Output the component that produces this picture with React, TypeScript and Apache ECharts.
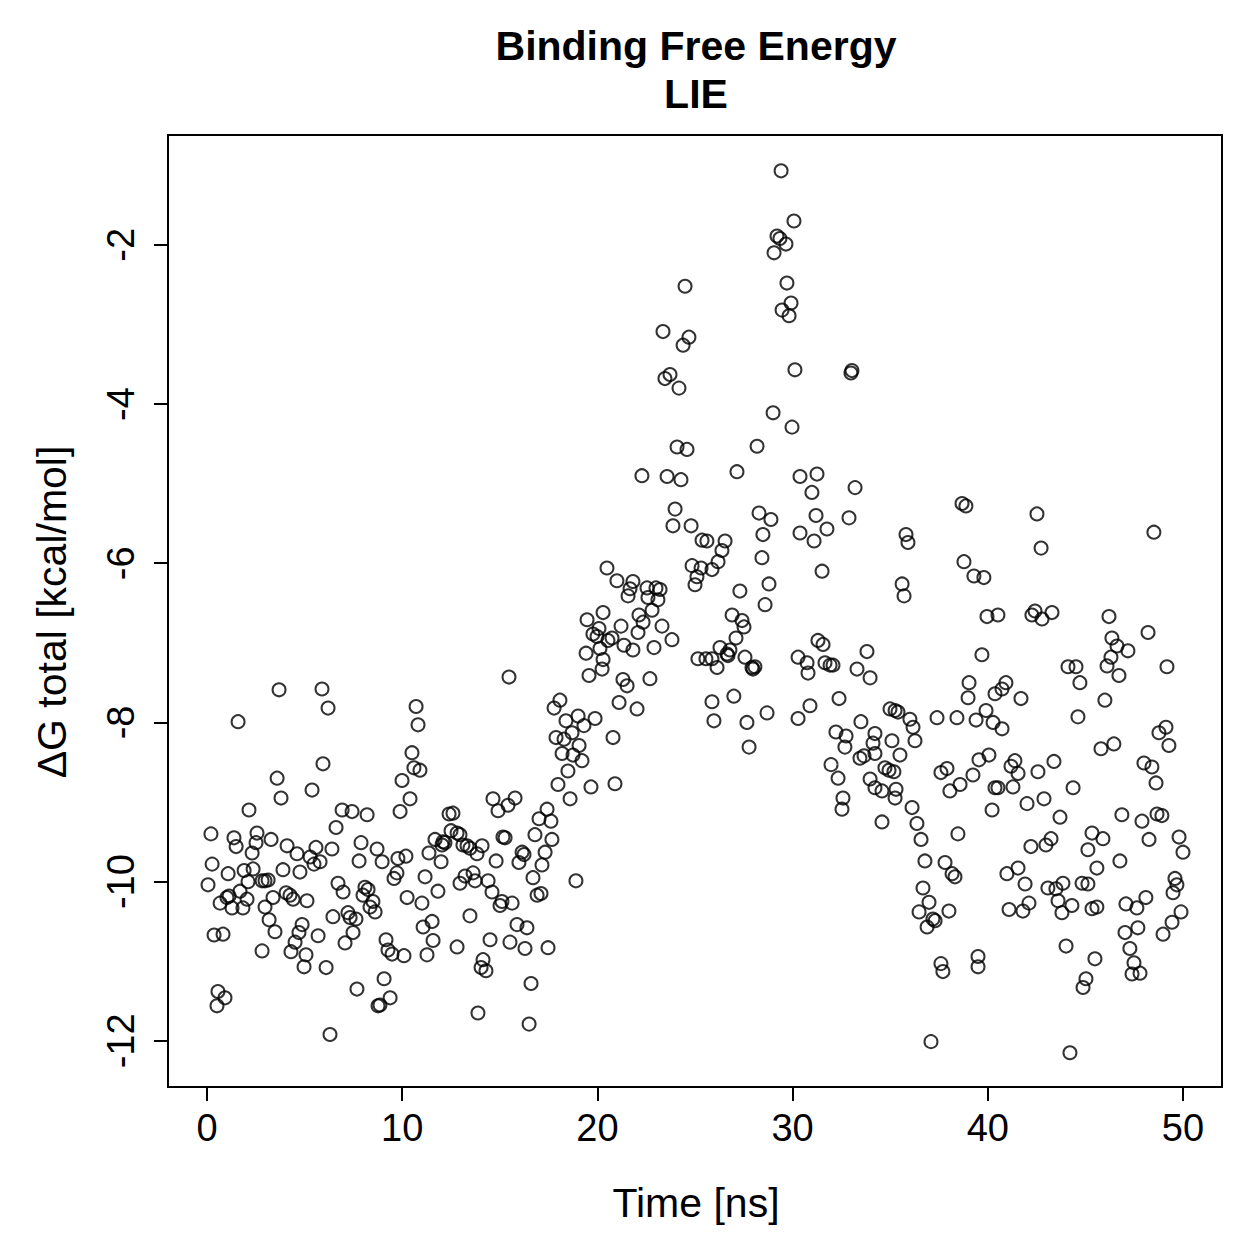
import React, { useEffect, useRef } from "react";
import * as echarts from "echarts";

const xTicks = [0, 10, 20, 30, 40, 50];
const yTicks = [-12, -10, -8, -6, -4, -2];

const ns0to5: [number, number][] = [
  [3.69,-7.59],[1.59,-7.99],[3.59,-8.70],[3.79,-8.95],[5.38,-8.85],[2.15,-9.10],[0.20,-9.40],[1.38,-9.45],
  [2.56,-9.39],[1.49,-9.56],[2.51,-9.51],[3.28,-9.47],[4.10,-9.55],[4.61,-9.65],[2.31,-9.64],[5.28,-9.69],
  [0.26,-9.78],[1.08,-9.90],[1.90,-9.86],[2.36,-9.84],[3.89,-9.85],[4.76,-9.88],[0.05,-10.04],[2.10,-10.00],
  [2.82,-9.99],[3.13,-9.98],[2.97,-9.99],[1.69,-10.12],[1.13,-10.18],[0.67,-10.27],[1.02,-10.20],[2.05,-10.22],
  [1.28,-10.33],[1.84,-10.33],[3.38,-10.20],[4.05,-10.14],[4.25,-10.17],[4.41,-10.22],[5.12,-10.24],[2.97,-10.32],
  [3.18,-10.48],[3.48,-10.63],[4.87,-10.54],[4.71,-10.64],[4.51,-10.76],[4.30,-10.88],[5.07,-10.92],[4.97,-11.07],
  [0.36,-10.67],[0.82,-10.66],[2.82,-10.87],[0.56,-11.38],[0.92,-11.46],[0.51,-11.56]
];

const ns5to10: [number, number][] = [
  [5.89,-7.58],[6.20,-7.82],[5.94,-8.52],[6.92,-9.10],[7.43,-9.12],[8.20,-9.16],[6.61,-9.32],[5.58,-9.57],
  [6.40,-9.59],[5.79,-9.75],[5.48,-9.78],[7.89,-9.51],[8.71,-9.59],[7.79,-9.74],[8.97,-9.75],[9.78,-9.71],
  [10.19,-9.68],[9.73,-9.89],[9.58,-9.96],[6.71,-10.02],[6.97,-10.13],[8.09,-10.07],[8.25,-10.10],[7.99,-10.17],
  [8.50,-10.25],[8.35,-10.32],[8.61,-10.38],[10.25,-10.20],[6.45,-10.44],[7.22,-10.39],[7.33,-10.45],[7.63,-10.47],
  [5.69,-10.68],[7.48,-10.64],[7.07,-10.77],[6.10,-11.08],[9.17,-10.73],[9.27,-10.86],[9.48,-10.91],[10.09,-10.93],
  [9.07,-11.22],[7.68,-11.35],[9.38,-11.46],[8.86,-11.55],[8.76,-11.56],[6.30,-11.92]
];

const ns10to15: [number, number][] = [
  [10.71,-7.80],[10.81,-8.03],[10.50,-8.38],[10.60,-8.57],[10.91,-8.60],[9.99,-8.73],[10.40,-8.96],[9.89,-9.12],
  [14.65,-8.96],[14.91,-9.11],[15.42,-9.04],[12.40,-9.15],[12.60,-9.14],[12.50,-9.36],[12.81,-9.39],[12.96,-9.41],
  [11.68,-9.47],[12.09,-9.50],[12.19,-9.51],[12.04,-9.54],[13.11,-9.54],[13.32,-9.55],[13.47,-9.58],[14.09,-9.55],
  [13.83,-9.65],[11.37,-9.64],[11.99,-9.75],[14.81,-9.74],[15.16,-9.44],[15.27,-9.45],[11.17,-9.94],[11.83,-10.12],
  [13.22,-9.93],[13.63,-9.89],[13.73,-9.99],[12.96,-10.02],[14.40,-9.99],[14.60,-10.13],[15.11,-10.25],[15.01,-10.30],
  [11.01,-10.27],[13.47,-10.43],[11.07,-10.57],[11.53,-10.50],[11.58,-10.74],[12.81,-10.82],[14.50,-10.73],[15.52,-10.76],
  [11.27,-10.92],[14.14,-10.98],[14.04,-11.08],[14.29,-11.12],[13.88,-11.65]
];

const ns15to20: [number, number][] = [
  [20.49,-6.06],[20.29,-6.62],[19.47,-6.71],[19.77,-6.89],[19.98,-6.92],[20.08,-6.82],[19.42,-7.13],[20.13,-7.07],
  [19.57,-7.41],[20.24,-7.33],[15.47,-7.43],[18.08,-7.72],[17.78,-7.82],[18.39,-7.98],[19.01,-7.92],[19.31,-8.04],
  [19.88,-7.95],[18.70,-8.13],[17.88,-8.19],[18.29,-8.21],[18.19,-8.39],[18.75,-8.41],[19.06,-8.29],[19.21,-8.48],
  [18.49,-8.61],[17.98,-8.78],[19.67,-8.81],[18.60,-8.96],[15.78,-8.95],[17.42,-9.09],[17.01,-9.21],[17.62,-9.24],
  [16.80,-9.41],[17.67,-9.47],[17.32,-9.63],[16.14,-9.63],[16.24,-9.66],[15.98,-9.76],[17.16,-9.79],[16.70,-9.95],
  [18.90,-9.99],[15.63,-10.27],[16.91,-10.17],[17.11,-10.15],[15.88,-10.54],[16.39,-10.58],[17.47,-10.83],[16.29,-10.84],
  [16.60,-11.28],[16.50,-11.79]
];

const ns20to25: [number, number][] = [
  [24.49,-2.52],[23.36,-3.09],[24.69,-3.16],[24.39,-3.26],[23.72,-3.63],[23.46,-3.68],[24.18,-3.80],[24.08,-4.54],
  [24.59,-4.57],[22.28,-4.90],[23.57,-4.91],[24.28,-4.95],[23.98,-5.32],[23.87,-5.53],[24.80,-5.53],[25.36,-5.71],
  [21.00,-6.22],[21.82,-6.23],[21.67,-6.32],[21.57,-6.41],[22.54,-6.31],[22.59,-6.43],[23.00,-6.31],[23.21,-6.33],
  [23.10,-6.46],[22.80,-6.59],[24.85,-6.03],[25.31,-6.06],[25.10,-6.17],[25.00,-6.27],[22.13,-6.65],[22.34,-6.74],
  [21.21,-6.79],[23.31,-6.79],[22.08,-6.87],[20.75,-6.94],[20.54,-6.97],[21.36,-7.03],[21.82,-7.09],[22.90,-7.06],
  [23.82,-6.96],[20.29,-7.21],[21.31,-7.46],[21.52,-7.54],[22.69,-7.45],[21.11,-7.75],[22.03,-7.83],[20.80,-8.19],
  [20.90,-8.77]
];

const ns25to30: [number, number][] = [
  [29.41,-1.07],[30.07,-1.70],[29.20,-1.89],[29.35,-1.92],[29.66,-1.99],[29.05,-2.10],[29.71,-2.48],[29.92,-2.73],
  [29.46,-2.82],[29.82,-2.89],[30.12,-3.57],[29.00,-4.11],[29.97,-4.29],[28.18,-4.53],[27.15,-4.85],[30.38,-4.91],
  [28.28,-5.37],[28.89,-5.45],[28.48,-5.64],[25.61,-5.72],[26.54,-5.72],[26.38,-5.84],[26.18,-5.98],[25.87,-6.08],
  [28.43,-5.93],[30.38,-5.62],[27.30,-6.35],[28.79,-6.26],[28.59,-6.52],[26.90,-6.65],[27.41,-6.72],[27.51,-6.80],
  [27.10,-6.94],[26.28,-7.06],[25.15,-7.20],[25.56,-7.20],[25.87,-7.20],[26.79,-7.09],[26.64,-7.14],[26.69,-7.16],
  [26.13,-7.31],[27.56,-7.18],[27.92,-7.31],[27.97,-7.33],[28.07,-7.30],[30.28,-7.18],[25.87,-7.74],[26.99,-7.67],
  [25.97,-7.98],[27.66,-8.00],[28.69,-7.88],[30.28,-7.95],[27.77,-8.31]
];

const ns30to35: [number, number][] = [
  [32.99,-3.61],[33.04,-3.58],[31.25,-4.88],[30.99,-5.11],[33.20,-5.05],[31.20,-5.40],[31.10,-5.72],[31.76,-5.57],
  [32.89,-5.43],[31.51,-6.10],[31.30,-6.97],[31.56,-7.02],[30.74,-7.25],[30.79,-7.38],[31.66,-7.25],[31.92,-7.28],
  [32.07,-7.28],[33.81,-7.11],[33.30,-7.33],[33.97,-7.44],[30.89,-7.79],[32.38,-7.70],[33.50,-7.99],[34.99,-7.83],
  [35.25,-7.85],[32.22,-8.12],[32.74,-8.17],[32.68,-8.31],[31.97,-8.53],[32.33,-8.70],[34.22,-8.14],[34.12,-8.26],
  [35.09,-8.23],[33.66,-8.42],[33.45,-8.45],[34.22,-8.39],[34.73,-8.57],[34.94,-8.60],[35.19,-8.62],[33.97,-8.71],
  [34.22,-8.82],[34.58,-8.86],[35.25,-8.95],[32.58,-8.95],[32.53,-9.09],[34.58,-9.25],[35.50,-8.41]
];

const ns35to40: [number, number][] = [
  [38.68,-5.25],[38.88,-5.28],[35.81,-5.64],[35.91,-5.74],[35.61,-6.26],[35.71,-6.41],[38.78,-5.98],[39.29,-6.16],
  [39.80,-6.18],[39.96,-6.67],[40.52,-6.65],[39.70,-7.15],[39.04,-7.50],[38.99,-7.69],[40.37,-7.64],[35.40,-7.87],
  [36.01,-7.96],[36.17,-8.06],[36.27,-8.23],[37.40,-7.94],[38.42,-7.94],[39.40,-7.97],[39.91,-7.85],[40.27,-8.00],
  [37.60,-8.63],[37.91,-8.58],[39.24,-8.66],[39.55,-8.47],[40.06,-8.41],[40.37,-8.82],[40.22,-9.10],[35.30,-8.84],
  [36.12,-9.07],[36.37,-9.27],[36.58,-9.47],[38.06,-8.86],[38.58,-8.78],[38.47,-9.40],[36.78,-9.74],[37.81,-9.76],
  [38.17,-9.90],[38.32,-9.94],[36.68,-10.08],[36.99,-10.26],[36.48,-10.38],[37.19,-10.47],[37.30,-10.49],[36.89,-10.57],
  [38.01,-10.37],[37.60,-11.03],[37.70,-11.13],[39.50,-11.07],[37.09,-12.01]
];

const ns40to45: [number, number][] = [
  [42.52,-5.38],[42.73,-5.81],[42.26,-6.65],[42.42,-6.60],[42.78,-6.70],[43.29,-6.62],[44.11,-7.30],[44.52,-7.30],
  [44.72,-7.50],[44.62,-7.93],[40.73,-7.58],[40.93,-7.50],[41.70,-7.70],[40.73,-8.08],[41.19,-8.55],[41.39,-8.48],
  [41.55,-8.64],[42.57,-8.62],[43.39,-8.49],[40.52,-8.82],[41.29,-8.81],[42.01,-9.02],[42.88,-8.96],[44.37,-8.82],
  [43.70,-9.19],[45.34,-9.39],[42.21,-9.56],[42.98,-9.54],[43.24,-9.46],[45.13,-9.60],[40.98,-9.90],[41.55,-9.83],
  [41.91,-10.03],[43.08,-10.08],[43.49,-10.09],[43.85,-10.02],[44.83,-10.02],[45.13,-10.03],[45.59,-9.83],[41.09,-10.35],
  [41.80,-10.37],[42.11,-10.27],[43.60,-10.24],[43.80,-10.39],[44.31,-10.30],[45.34,-10.34],[45.59,-10.32],[44.01,-10.81],
  [39.50,-10.94],[45.49,-10.97],[45.03,-11.22],[44.88,-11.33],[44.21,-12.15]
];

const ns45to50: [number, number][] = [
  [48.51,-5.61],[46.21,-6.67],[48.21,-6.87],[46.36,-6.94],[46.62,-7.04],[47.18,-7.10],[46.31,-7.18],[46.11,-7.29],
  [46.72,-7.41],[49.18,-7.30],[46.00,-7.72],[46.46,-8.27],[45.80,-8.33],[48.77,-8.13],[49.13,-8.06],[49.28,-8.29],
  [48.00,-8.51],[48.41,-8.56],[48.62,-8.76],[46.87,-9.16],[47.90,-9.24],[48.67,-9.15],[48.92,-9.17],[45.90,-9.46],
  [48.26,-9.47],[49.80,-9.44],[50.00,-9.63],[46.77,-9.74],[49.59,-9.96],[49.69,-10.04],[49.49,-10.14],[47.08,-10.28],
  [47.64,-10.33],[48.10,-10.20],[49.90,-10.38],[49.44,-10.51],[48.98,-10.66],[47.03,-10.64],[47.69,-10.58],[47.28,-10.84],
  [47.49,-11.02],[47.39,-11.16],[47.80,-11.15]
];

const allPoints = [
  ...ns0to5, ...ns5to10, ...ns10to15, ...ns15to20, ...ns20to25,
  ...ns25to30, ...ns30to35, ...ns35to40, ...ns40to45, ...ns45to50,
];

const FONT = "'Liberation Sans', Arial, Helvetica, sans-serif";

export default function App() {
  const ref = useRef<HTMLDivElement>(null);
  useEffect(() => {
    if (!ref.current) return;
    const chart = echarts.init(ref.current, null, { renderer: "svg" });
    chart.setOption({
      animation: false,
      backgroundColor: "#ffffff",
      grid: {
        left: 168,
        right: 37,
        top: 135,
        bottom: 172,
        show: true,
        borderColor: "#000",
        borderWidth: 2,
        backgroundColor: "transparent",
      },
      xAxis: {
        type: "value",
        min: -2,
        max: 52,
        position: "bottom",
        axisLine: { show: false, onZero: false },
        splitLine: { show: false },
        axisTick: {
          show: true,
          length: 14,
          inside: false,
          customValues: xTicks,
          lineStyle: { color: "#000", width: 2 },
        },
        axisLabel: {
          customValues: xTicks,
          color: "#000",
          fontSize: 38,
          fontFamily: FONT,
          margin: 22,
        },
      },
      yAxis: {
        type: "value",
        min: -12.58,
        max: -0.62,
        position: "left",
        axisLine: { show: false, onZero: false },
        splitLine: { show: false },
        axisTick: {
          show: true,
          length: 14,
          inside: false,
          customValues: yTicks,
          lineStyle: { color: "#000", width: 2 },
        },
        axisLabel: {
          customValues: yTicks,
          color: "#000",
          fontSize: 38,
          fontFamily: FONT,
          rotate: 90,
          margin: 28,
        },
      },
      series: [
        {
          type: "scatter",
          data: allPoints,
          symbol: "circle",
          symbolSize: 13,
          silent: true,
          itemStyle: {
            color: "rgba(0,0,0,0)",
            borderColor: "#000",
            borderWidth: 2,
          },
        },
      ],
      graphic: [
        {
          type: "text",
          x: 696,
          y: 46,
          style: {
            text: "Binding Free Energy",
            fontSize: 41,
            fontWeight: "bold",
            fontFamily: FONT,
            fill: "#000",
            align: "center",
            verticalAlign: "middle",
          },
        },
        {
          type: "text",
          x: 696,
          y: 94,
          style: {
            text: "LIE",
            fontSize: 41,
            fontWeight: "bold",
            fontFamily: FONT,
            fill: "#000",
            align: "center",
            verticalAlign: "middle",
          },
        },
        {
          type: "text",
          x: 696,
          y: 1203,
          style: {
            text: "Time [ns]",
            fontSize: 41,
            fontFamily: FONT,
            fill: "#000",
            align: "center",
            verticalAlign: "middle",
          },
        },
        {
          type: "text",
          x: 52,
          y: 612,
          rotation: Math.PI / 2,
          style: {
            text: "ΔG total [kcal/mol]",
            fontSize: 41,
            fontFamily: FONT,
            fill: "#000",
            align: "center",
            verticalAlign: "middle",
          },
        },
      ],
    });
    return () => chart.dispose();
  }, []);
  return (
    <div
      ref={ref}
      style={{ position: "absolute", left: 0, top: 0, width: 1259, height: 1259 }}
    />
  );
}
